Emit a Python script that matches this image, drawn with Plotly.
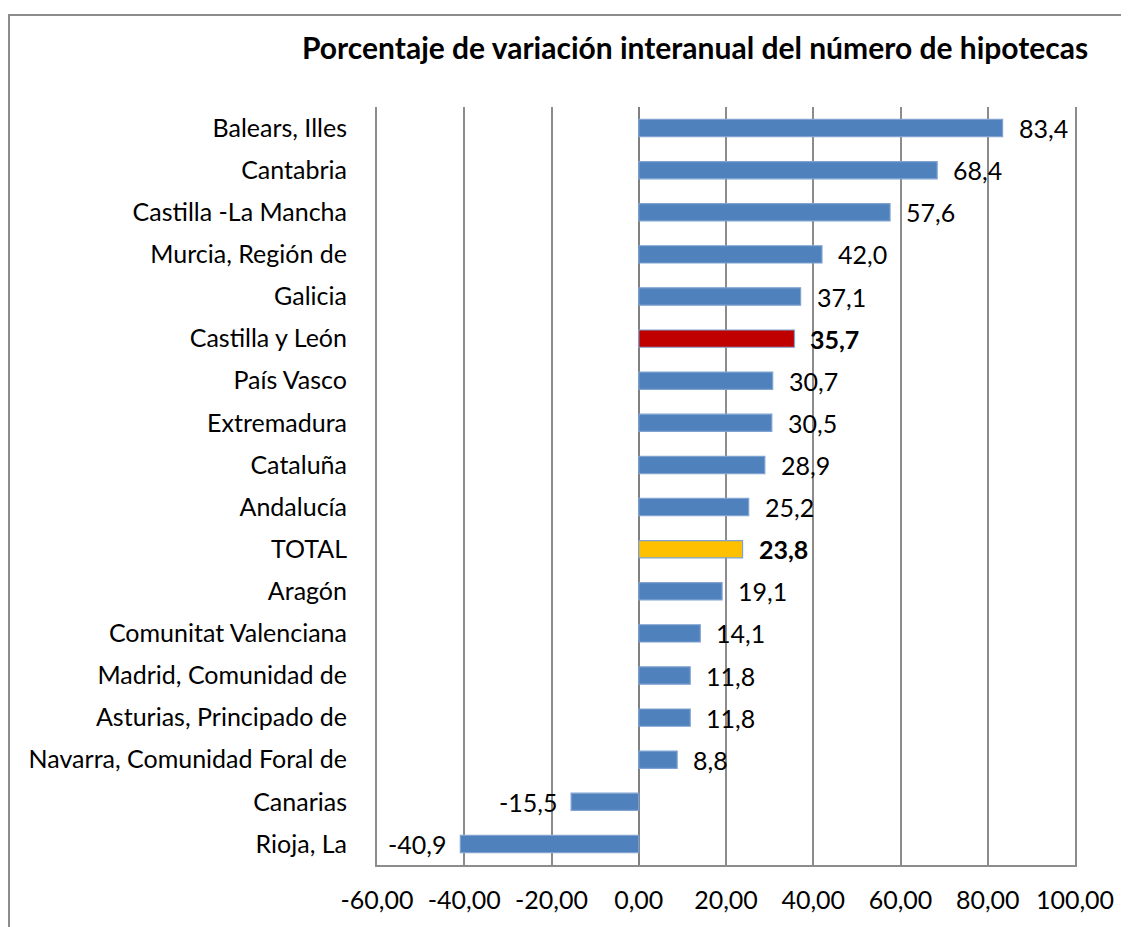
import plotly.graph_objects as go

categories = [
    "Balears, Illes", "Cantabria", "Castilla -La Mancha", "Murcia, Región de",
    "Galicia", "Castilla y León", "País Vasco", "Extremadura", "Cataluña",
    "Andalucía", "TOTAL", "Aragón", "Comunitat Valenciana",
    "Madrid, Comunidad de", "Asturias, Principado de",
    "Navarra, Comunidad Foral de", "Canarias", "Rioja, La",
]
values = [83.4, 68.4, 57.6, 42.0, 37.1, 35.7, 30.7, 30.5, 28.9, 25.2,
          23.8, 19.1, 14.1, 11.8, 11.8, 8.8, -15.5, -40.9]
x_tick_values = [-60, -40, -20, 0, 20, 40, 60, 80, 100]
x_tick_labels = ["-60,00", "-40,00", "-20,00", "0,00", "20,00", "40,00",
                 "60,00", "80,00", "100,00"]
title_text = "Porcentaje de variación interanual del número de hipotecas"

highlight = {"Castilla y León": "#C00000", "TOTAL": "#FFC000"}
bold_labels = set(highlight)
base_color = "#4F81BD"
colors = [highlight.get(c, base_color) for c in categories]

FONT = "Lato"
OFF = 8  # page body margin offset
W, H = 1129, 927
L = 377 - OFF
T = 107 - OFF
R = W - (1075 - OFF)
B = H - (865 - OFF)
PW, PH = W - L - R, H - T - B

def px_x(p):
    return (p - OFF - L) / PW

def px_y(p):
    return 1 - (p - OFF - T) / PH

fig = go.Figure()
fig.add_trace(go.Bar(
    x=values, y=categories, orientation="h",
    marker=dict(color=colors, line=dict(color="#7FA2D0", width=1.2)),
    hoverinfo="x+y",
))

def fmt(v):
    return f"{v:.1f}".replace(".", ",")

annotations = []
for c, v in zip(categories, values):
    txt = fmt(v)
    if c in bold_labels:
        txt = f"<b>{txt}</b>"
    annotations.append(dict(
        x=v, y=c, xref="x", yref="y", text=txt, showarrow=False,
        xanchor="left" if v >= 0 else "right",
        xshift=14 if v >= 0 else -12,
        font=dict(family=FONT, size=25, color="#000000"),
    ))

annotations.append(dict(
    x=px_x(695), y=px_y(47), xref="paper", yref="paper",
    text=f"<b>{title_text}</b>", showarrow=False,
    xanchor="center", yanchor="middle",
    font=dict(family=FONT, size=30, color="#000000"),
))

fig.update_layout(
    width=W, height=H,
    margin=dict(l=L, r=R, t=T, b=B, autoexpand=False),
    paper_bgcolor="white", plot_bgcolor="white",
    bargap=0.59,
    showlegend=False,
    font=dict(family=FONT, size=25, color="#000000"),
    annotations=annotations,
    shapes=[dict(
        type="rect", xref="paper", yref="paper",
        x0=px_x(9), x1=px_x(1150), y0=px_y(15), y1=px_y(960),
        line=dict(color="#8C8C8C", width=2), fillcolor="rgba(0,0,0,0)",
        layer="below",
    )],
)

fig.update_xaxes(
    range=[-60, 100], tickvals=x_tick_values, ticktext=x_tick_labels,
    showgrid=True, gridcolor="#8C8C8C", gridwidth=1.5,
    zeroline=True, zerolinecolor="#808080", zerolinewidth=2,
    showline=True, linecolor="#8C8C8C", linewidth=2,
    ticks="", ticklabelstandoff=12,
    tickfont=dict(family=FONT, size=25, color="#000000"),
    fixedrange=True,
)
fig.update_yaxes(
    autorange="reversed", type="category",
    showgrid=False, zeroline=False,
    showline=True, linecolor="#8C8C8C", linewidth=2, mirror=True,
    ticks="", ticklabelstandoff=23,
    tickfont=dict(family=FONT, size=25, color="#000000"),
    fixedrange=True,
)

fig.write_html("out.html")
